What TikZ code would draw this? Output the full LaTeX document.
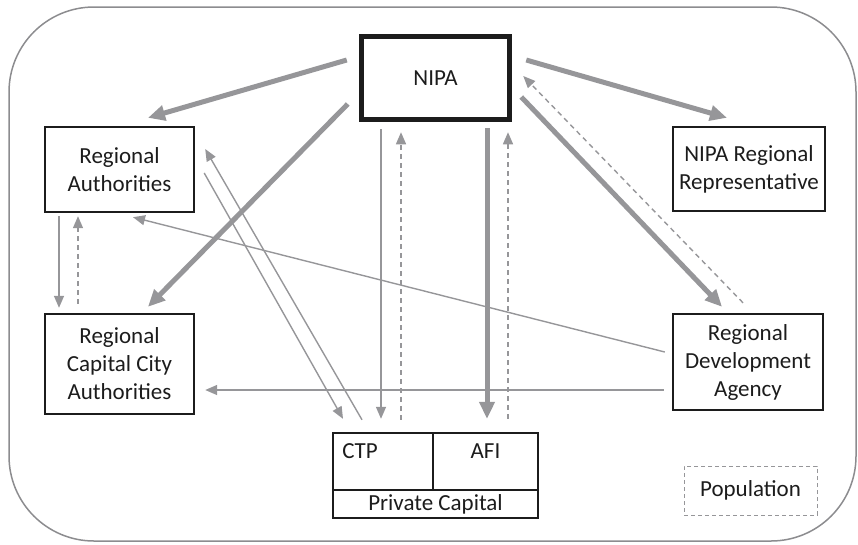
\documentclass[tikz,border=0pt]{standalone}
\usepackage{fontspec}
\setmainfont{Carlito}
\usetikzlibrary{arrows.meta,calc}
\definecolor{arr}{RGB}{150,150,153}
\definecolor{frame}{RGB}{140,140,143}
\definecolor{ink}{RGB}{28,28,28}
\begin{document}
\begin{tikzpicture}[x=1pt,y=-1pt,
  txt/.style={font=\fontsize{23}{28}\selectfont, text=ink},
  box/.style={draw=ink, line width=2.4pt, align=center, inner sep=0pt, txt},
  lab/.style={anchor=north, inner sep=0pt, txt},
  bigarrow/.style={draw=arr, line width=5pt, -{Triangle[length=17pt,width=15pt]}},
  thinarrow/.style={draw=arr, line width=1.4pt, -{Triangle[length=12pt,width=10pt]}},
  dasharrow/.style={thinarrow, dash pattern=on 5pt off 4pt}]
\useasboundingbox (0,0) rectangle (858,544);
\draw[draw=frame, line width=1.5pt, rounded corners=85pt] (9,7) rectangle (856,541);

% nodes
\node[box, line width=4.5pt, minimum width=148pt, minimum height=83pt] (nipa) at (435.5,78) {NIPA};
\node[box, minimum width=149pt, minimum height=85pt] (ra) at (119.5,169.5) {Regional\\Authorities};
\node[box, minimum width=152pt, minimum height=84pt] (nrr) at (749,169) {NIPA Regional\\Representative};
\node[box, minimum width=149pt, minimum height=100pt] (rcc) at (119.5,364) {Regional\\Capital City\\Authorities};
\node[box, minimum width=150pt, minimum height=96pt] (rda) at (748,362) {Regional\\Development\\Agency};
\node[box, minimum width=100pt, minimum height=57pt,
      label={[lab, xshift=-23pt, yshift=-12pt]north:CTP}] (ctp) at (383,461.5) {};
\node[box, minimum width=105pt, minimum height=57pt,
      label={[lab, yshift=-12pt]north:AFI}] (afi) at (485.5,461.5) {};
\node[box, minimum width=205pt, minimum height=28pt] (pcap) at (435.5,504) {Private Capital};
\node[draw=arr, line width=1pt, dash pattern=on 4pt off 3pt, minimum width=133pt, minimum height=49pt, inner sep=0pt, txt] (pop) at (750.5,490.5) {Population};

% thick arrows from NIPA
\draw[bigarrow] ($(nipa.west)+(-12.5,-18)$) -- ($(ra.north)+(28.5,-8)$);
\draw[bigarrow] ($(nipa.west)+(-11.5,26)$) -- ($(rcc.north)+(28.5,-6)$);
\draw[bigarrow] ($(nipa.east)+(14.5,-18)$) -- ($(nrr.north)+(-22,-8)$);
\draw[bigarrow] ($(nipa.east)+(9.5,19)$) -- ($(rda.north)+(-26,-6)$);
\draw[bigarrow] ($(nipa.south)+(51.5,6.5)$) -- ($(afi.north)+(1.5,-13)$);

% feedback and thin arrows
\draw[dasharrow] ($(rda.north)+(-5,-10)$) -- ($(nipa.east)+(11.5,-2)$);
\draw[thinarrow] ($(nipa.south)+(-54.5,7.5)$) -- ($(ctp.north)+(-2,-13)$);
\draw[dasharrow] ($(ctp.north)+(18,-12)$) -- ($(nipa.south)+(-34.5,10.5)$);
\draw[dasharrow] ($(afi.north)+(22.5,-13)$) -- ($(nipa.south)+(72.5,10.5)$);
\draw[thinarrow] ($(ra.east)+(9,3.5)$) -- ($(ctp.north)+(-40,-13)$);
\draw[thinarrow] ($(ctp.north)+(-21,-12)$) -- ($(ra.east)+(10,-20.5)$);
\draw[thinarrow] ($(rda.west)+(-7,-10)$) -- ($(ra.south)+(13.5,4)$);
\draw[thinarrow] ($(rda.west)+(-8,28)$) -- ($(rcc.east)+(10,26)$);
\draw[thinarrow] ($(ra.south)+(-60.5,3)$) -- ($(rcc.north)+(-60.5,-5)$);
\draw[dasharrow] ($(rcc.north)+(-41.5,-9)$) -- ($(ra.south)+(-41.5,3)$);
\end{tikzpicture}
\end{document}
